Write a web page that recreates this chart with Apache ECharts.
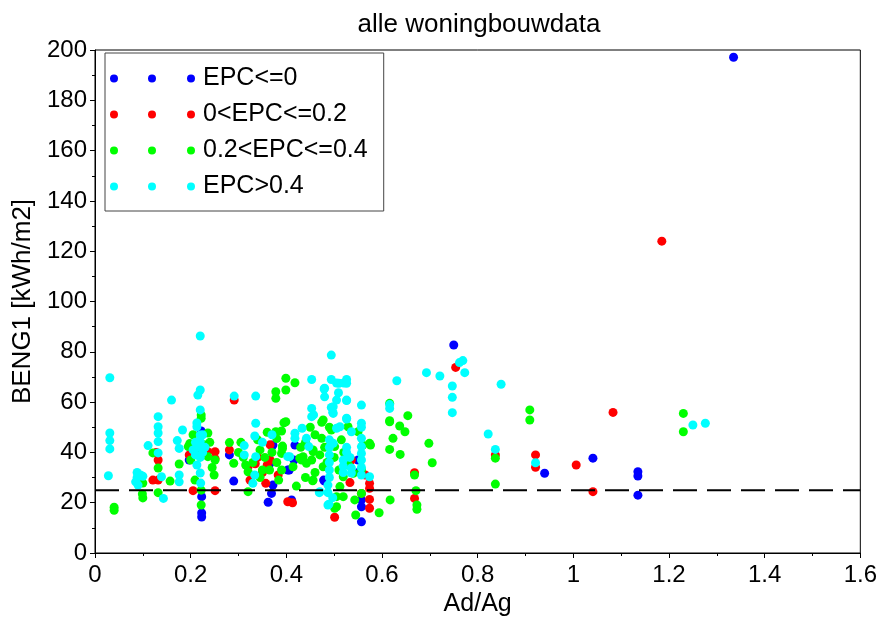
<!DOCTYPE html>
<html>
<head>
<meta charset="utf-8">
<title>alle woningbouwdata</title>
<script src="https://cdn.jsdelivr.net/npm/echarts@6/dist/echarts.min.js"></script>
<style>
  html, body { margin: 0; padding: 0; background: #fff; }
  #chart { width: 880px; height: 635px; }
</style>
</head>
<body>
<div id="chart"></div>
<script>
// Axis ranges and tick steps
const xTicks = { min: 0, max: 1.6, step: 0.2 };
const yTicks = { min: 0, max: 200, step: 20 };

// Series names (EPC classes)
const seriesNames = ['EPC<=0', '0<EPC<=0.2', '0.2<EPC<=0.4', 'EPC>0.4'];

// Reference level for BENG1 (dashed line)
const bengLimit = 25;

// [Ad/Ag, BENG1] per EPC class
const epcLe0 = [
  [0.197,37],[0.222,48.5],[0.223,22.4],[0.223,15.9],[0.223,14.3],[0.281,39],[0.29,28.6],
  [0.366,35.7],[0.369,23.7],[0.362,20.2],[0.372,27],[0.372,42.9],[0.403,33],[0.406,33],
  [0.416,37],[0.418,42.9],[0.411,21.1],[0.478,29],[0.48,28.6],[0.55,37],[0.553,32.3],
  [0.557,21.1],[0.557,18.4],[0.557,12.4],[0.75,82.7],[0.94,31.7],[1.041,37.7],
  [1.135,32.3],[1.135,30.6],[1.135,23],[1.335,197.1]
];

const epc0to02 = [
  [0.121,29],[0.132,29],[0.132,37],[0.128,40],[0.197,39],[0.205,24.8],[0.236,40.3],
  [0.251,40.3],[0.251,37.5],[0.251,24.8],[0.291,60.8],[0.281,41],[0.32,34.3],[0.324,29],
  [0.335,35.5],[0.34,38],[0.35,32],[0.36,35],
  [0.357,27.7],[0.366,37],[0.366,43],[0.383,31],[0.403,20.4],[0.413,20],
  [0.501,14.2],[0.533,28],[0.536,37],[0.557,23.7],[0.565,31],[0.574,17.8],[0.574,21.3],
  [0.574,25.7],[0.574,27.7],[0.668,31.9],[0.668,21.7],[0.754,73.8],[0.837,39],[0.921,39],
  [0.921,34.1],[1.006,35],[1.041,24.4],[1.083,55.9],[1.185,124]
];

const epc02to04 = [
  [0.04,17],[0.04,18.2],[0.1,27.8],[0.1,21.9],[0.099,23.5],[0.132,33.8],[0.121,39.8],
  [0.132,24],[0.157,28.6],[0.176,35.4],[0.195,42.3],[0.198,43.5],[0.2,37],[0.205,47],
  [0.222,54.9],[0.222,53.6],[0.24,44],[0.245,34],
  [0.236,47.7],[0.236,38.3],[0.251,37],[0.249,31],[0.209,29],[0.222,25],[0.222,19.1],
  [0.215,41],[0.228,43],[0.281,43.9],[0.29,35.7],[0.32,32.3],[0.32,24.4],[0.33,36],
  [0.3,40],[0.305,44],[0.34,45],[0.36,48],[0.37,40],[0.365,33],[0.345,30],[0.38,36],
  [0.31,38],[0.315,35],[0.345,41],[0.35,33],[0.355,38],
  [0.378,64.1],[0.378,61.5],[0.399,69.5],[0.399,64.8],[0.418,67.7],[0.395,51.8],[0.399,52.2],
  [0.378,48.2],[0.39,48.5],[0.38,45.5],[0.392,42.5],[0.392,41.6],[0.39,39.6],[0.39,33],
  [0.384,29],[0.414,34.3],[0.428,37.7],[0.435,38.3],[0.432,37],[0.442,35.7],[0.453,37],
  [0.456,40.3],[0.456,41],[0.474,45.6],[0.474,52],[0.477,52.9],[0.477,34.3],[0.421,26.6],
  [0.455,28.7],[0.456,29],[0.494,48.9],[0.501,42.3],[0.505,22.4],[0.505,18.4],[0.501,17.8],
  [0.512,26.4],[0.519,22.4],[0.519,30.3],[0.529,50.2],[0.54,31.7],[0.543,21.1],[0.545,15.1],
  [0.55,48.2],[0.557,23.7],[0.557,33],[0.56,42.9],[0.574,43.6],[0.576,42.9],[0.594,16],
  [0.44,44],[0.46,47],[0.47,39],[0.48,42],[0.485,36],[0.49,50],[0.5,38],[0.51,33],
  [0.515,45],[0.52,40],[0.53,35],[0.46,32],[0.44,30],[0.43,42],[0.45,50],
  [0.617,21.1],[0.616,59.5],[0.616,52.6],[0.616,52.2],[0.623,45.6],[0.616,41.2],[0.637,50.5],
  [0.648,48.2],[0.654,54.6],[0.638,39.2],[0.668,31],[0.671,24.8],[0.673,19.1],[0.673,17.4],
  [0.698,43.6],[0.705,35.9],[0.837,37.7],[0.837,27.4],[0.909,56.9],[0.909,52.9],
  [1.23,55.5],[1.23,48.2]
];

const epcGt04 = [
  [0.031,69.7],[0.031,47.7],[0.031,44.7],[0.031,41.4],[0.028,30.7],[0.085,28.3],[0.088,30],
  [0.088,32],[0.09,27],[0.095,31],[0.1,30.5],[0.111,42.7],[0.132,39.8],[0.132,44.3],
  [0.132,47.7],[0.132,50.2],[0.132,54.2],[0.143,21.7],[0.139,30.3],[0.16,60.8],[0.183,48.9],
  [0.172,44.7],[0.176,41.6],[0.176,31],[0.176,28.3],[0.22,86.3],[0.22,64.8],[0.215,62.8],
  [0.22,56.9],[0.213,51.7],[0.213,50.2],[0.22,46.9],[0.22,44.3],[0.215,42],[0.225,40],
  [0.21,44],[0.225,47],[0.23,42],[0.205,41],
  [0.21,39],[0.22,38],[0.213,35],[0.22,31.8],[0.221,27.8],[0.291,62.4],[0.312,42.7],
  [0.312,39],[0.336,62.4],[0.336,51.6],[0.334,46.5],[0.336,38.3],[0.334,31],[0.33,27.7],
  [0.35,44],[0.37,47],
  [0.403,38.3],[0.407,38.3],[0.418,47.6],[0.418,45.6],[0.433,49.6],[0.442,45.6],[0.447,42.3],
  [0.453,69],[0.453,57.5],[0.457,54.9],[0.453,54.2],[0.48,65.5],[0.48,62.1],[0.479,65.2],
  [0.494,78.7],[0.494,69],[0.505,67.6],[0.51,67.5],[0.52,67.6],[0.526,69],[0.526,67.5],
  [0.509,63.7],[0.505,60.8],[0.526,60.8],[0.526,60.6],[0.498,58.2],[0.494,57.9],[0.497,56],
  [0.498,55.5],[0.526,53.6],[0.526,53.3],[0.505,49.6],[0.512,50.2],[0.536,48.2],[0.498,43.6],
  [0.49,45],[0.49,42],[0.49,39],[0.49,36],[0.49,33],[0.49,30],[0.487,27],[0.487,24],
  [0.497,22],[0.487,19.1],[0.489,19.4],[0.469,24],[0.47,24.4],
  [0.526,42],[0.526,40],[0.533,38],[0.519,37],[0.519,34.5],[0.519,32],[0.536,33.8],
  [0.536,31.8],[0.557,58.8],[0.557,51.6],[0.557,50],[0.557,45.6],[0.557,42.3],[0.557,39.6],
  [0.557,37],[0.557,34],[0.557,31],[0.574,30.3],
  [0.616,57.5],[0.616,59],[0.631,68.5],[0.693,71.7],[0.721,70.4],[0.747,66.4],[0.747,61.9],
  [0.747,55.8],[0.762,75.7],[0.769,76.5],[0.773,71.7],[0.822,47.3],[0.837,41.2],[0.849,67.1],
  [0.921,35.9],[1.25,50.9],[1.276,51.6]
];

const limitLine = [[xTicks.min, bengLimit], [xTicks.max, bengLimit]];

// Legend icon: three small dots in a row
const threeDots = 'path://M0,4a4,4 0 1,0 8,0a4,4 0 1,0 -8,0Z' +
  'M38,4a4,4 0 1,0 8,0a4,4 0 1,0 -8,0Z' +
  'M77,4a4,4 0 1,0 8,0a4,4 0 1,0 -8,0Z';

const colors = ['#0000ff', '#ff0000', '#00ff00', '#00ffff'];
const font = 'Liberation Sans, Arial, sans-serif';

// Plot area edges (px)
const plotLeft = 95, plotRight = 19, plotTop = 50, plotBottom = 82;
const plotCenterX = plotLeft + (880 - plotLeft - plotRight) / 2;

const chart = echarts.init(document.getElementById('chart'), null, { renderer: 'canvas' });

function scatter(name, data, color) {
  return {
    name: name,
    type: 'scatter',
    data: data,
    symbol: 'circle',
    symbolSize: 9,
    itemStyle: { color: color, opacity: 1 },
    emphasis: { disabled: true },
    z: 3
  };
}

chart.setOption({
  animation: false,
  backgroundColor: '#ffffff',
  textStyle: { fontFamily: font },
  title: {
    text: 'alle woningbouwdata',
    left: plotCenterX - 4,
    textAlign: 'center',
    top: 7,
    textStyle: { fontFamily: font, fontSize: 26, fontWeight: 'normal', color: '#000' }
  },
  grid: {
    left: plotLeft, right: plotRight, top: plotTop, bottom: plotBottom,
    show: true,
    borderColor: '#000',
    borderWidth: 1,
    backgroundColor: '#fff'
  },
  legend: {
    data: seriesNames,
    orient: 'vertical',
    left: 105,
    top: 53,
    icon: threeDots,
    itemWidth: 85,
    itemHeight: 8,
    itemGap: 11,
    padding: [13, 16, 12, 5],
    backgroundColor: '#fff',
    borderColor: '#444',
    borderWidth: 1,
    selectedMode: false,
    textStyle: { fontFamily: font, fontSize: 25, color: '#000', lineHeight: 24, padding: [0, 0, 0, 3] }
  },
  xAxis: {
    type: 'value',
    min: xTicks.min,
    max: xTicks.max,
    interval: xTicks.step,
    name: 'Ad/Ag',
    nameLocation: 'middle',
    nameGap: 38,
    nameTextStyle: { fontFamily: font, fontSize: 25, color: '#000' },
    axisLine: { show: true, onZero: false, lineStyle: { color: '#000', width: 1 } },
    axisTick: { show: true, length: 5, lineStyle: { color: '#000' } },
    minorTick: { show: true, splitNumber: 2, length: 3, lineStyle: { color: '#000' } },
    splitLine: { show: false },
    axisLabel: { fontFamily: font, fontSize: 24, color: '#000', margin: 10 }
  },
  yAxis: {
    type: 'value',
    min: yTicks.min,
    max: yTicks.max,
    interval: yTicks.step,
    name: 'BENG1 [kWh/m2]',
    nameLocation: 'middle',
    nameGap: 57,
    nameTextStyle: { fontFamily: font, fontSize: 26, color: '#000' },
    axisLine: { show: true, onZero: false, lineStyle: { color: '#000', width: 1 } },
    axisTick: { show: true, length: 5, lineStyle: { color: '#000' } },
    minorTick: { show: true, splitNumber: 2, length: 3, lineStyle: { color: '#000' } },
    splitLine: { show: false },
    axisLabel: { fontFamily: font, fontSize: 24, color: '#000', margin: 8 }
  },
  series: [
    scatter(seriesNames[0], epcLe0, colors[0]),
    scatter(seriesNames[1], epc0to02, colors[1]),
    scatter(seriesNames[2], epc02to04, colors[2]),
    scatter(seriesNames[3], epcGt04, colors[3]),
    {
      name: 'limit',
      type: 'line',
      data: limitLine,
      symbol: 'none',
      lineStyle: { color: '#000', width: 2, type: [24, 10] },
      emphasis: { disabled: true },
      silent: true,
      z: 4
    }
  ]
});
</script>
</body>
</html>
